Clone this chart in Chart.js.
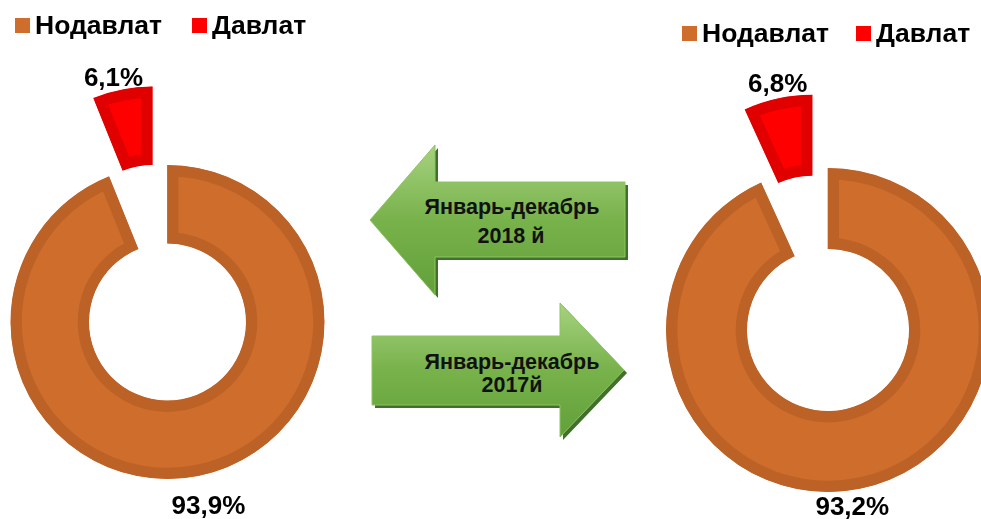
<!DOCTYPE html>
<html>
<head>
<meta charset="utf-8">
<script src="https://cdn.jsdelivr.net/npm/chart.js@4/dist/chart.umd.min.js"></script>
<style>
  html, body { margin: 0; padding: 0; background: #fff; }
  #stage { position: relative; width: 981px; height: 519px; overflow: hidden; font-family: "Liberation Sans", Arial, sans-serif; }
  canvas { position: absolute; }
  #c2018 { left: 0; top: 0; }
  #c2017 { left: 650px; top: 0; }
  .legend { position: absolute; display: flex; align-items: center; font: bold 26.5px "Liberation Sans", Arial, sans-serif; line-height: 27px; color: #000; white-space: nowrap; }
  .legend .item { display: flex; align-items: center; margin-right: 30px; }
  .legend .box { width: 15px; height: 15px; margin-right: 5px; }
  #lg2018 { left: 15px; top: 12px; }
  #lg2017 { left: 682px; top: 20px; }
  #lg2017 .item { margin-right: 27px; }
  #arrows { position: absolute; left: 0; top: 0; }
</style>
</head>
<body>
<div id="stage">
  <svg id="arrows" width="981" height="519" xmlns="http://www.w3.org/2000/svg">
    <defs>
      <linearGradient id="g1" x1="0" y1="0" x2="0" y2="1">
        <stop offset="0" stop-color="#A6D27F"/>
        <stop offset="0.5" stop-color="#78B24B"/>
        <stop offset="1" stop-color="#62A039"/>
      </linearGradient>
    </defs>
    <polygon points="373,223 438,148 438,185 628,185 628,260 438,260 438,298" fill="#41702A"/>
    <polygon points="370,220 435,145 435,182 625,182 625,257 435,257 435,295" fill="url(#g1)" stroke="#8DC463" stroke-width="1"/>
    <polygon points="375,339 563,339 563,306 627,373 563,440 563,408 375,408" fill="#41702A"/>
    <polygon points="372,336 560,336 560,303 624,370 560,437 560,405 372,405" fill="url(#g1)" stroke="#8DC463" stroke-width="1"/>
    <g font-family="Liberation Sans, Arial, sans-serif" font-weight="bold" font-size="21.5" fill="#111" text-anchor="middle">
      <text x="512" y="214">Январь-декабрь</text>
      <text x="511" y="243">2018 й</text>
      <text x="512" y="369">Январь-декабрь</text>
      <text x="512" y="392">2017й</text>
    </g>
  </svg>
  <canvas id="c2018" width="340" height="519"></canvas>
  <canvas id="c2017" width="331" height="519"></canvas>
  <div class="legend" id="lg2018"></div>
  <div class="legend" id="lg2017"></div>
</div>
<script>
// ---- data ----
const categories = ['Нодавлат', 'Давлат'];
const share2018 = [93.9, 6.1];
const share2017 = [93.2, 6.8];
const sliceColors = ['#CF6E2C', '#FF0000'];
const sliceBorders = ['#BD6227', '#E00000'];

// ---- doughnut controller that draws exploded slices ----
class ExplodedDoughnutController extends Chart.DoughnutController {
  draw() {
    const ctx = this.chart.ctx;
    const area = this.chart.chartArea;
    const meta = this._cachedMeta;
    const dist = this.getDataset().explode || [];
    meta.data.forEach((arc, i) => {
      if (arc.hidden) return;
      const d = dist[i] || 0;
      const mid = (arc.startAngle + arc.endAngle) / 2;
      ctx.save();
      ctx.translate(Math.cos(mid) * d, Math.sin(mid) * d);
      arc.draw(ctx, area);
      ctx.restore();
    });
  }
}
ExplodedDoughnutController.id = 'explodedDoughnut';
ExplodedDoughnutController.defaults = Chart.DoughnutController.defaults;
ExplodedDoughnutController.overrides = Chart.DoughnutController.overrides;
Chart.register(ExplodedDoughnutController);

const fmt = v => v.toFixed(1).replace('.', ',') + '%';

const sliceLabels = {
  id: 'sliceLabels',
  afterDatasetsDraw(chart, args, opts) {
    const ctx = chart.ctx;
    const meta = chart.getDatasetMeta(0);
    const ds = chart.data.datasets[0];
    const dist = ds.explode || [];
    ctx.save();
    ctx.font = opts.font;
    ctx.fillStyle = opts.color;
    ctx.textAlign = 'center';
    ctx.textBaseline = 'middle';
    meta.data.forEach((arc, i) => {
      const mid = (arc.startAngle + arc.endAngle) / 2;
      const text = fmt(ds.data[i]);
      const w = ctx.measureText(text).width;
      const h = opts.textHeight;
      const r = arc.outerRadius + (dist[i] || 0) + opts.pad[i];
      const c = Math.cos(mid), s = Math.sin(mid);
      const x = arc.x + c * (r + w / 2) + opts.nudgeX[i];
      const y = arc.y + s * (r + h / 2);
      ctx.fillText(text, x, y);
    });
    ctx.restore();
  }
};

function htmlLegend(chart, el) {
  const items = chart.options.plugins.legend.labels.generateLabels(chart);
  el.innerHTML = '';
  items.forEach(it => {
    const item = document.createElement('div');
    item.className = 'item';
    const box = document.createElement('span');
    box.className = 'box';
    box.style.background = it.fillStyle;
    const txt = document.createElement('span');
    txt.textContent = it.text;
    item.appendChild(box);
    item.appendChild(txt);
    el.appendChild(item);
  });
}

function makeChart(canvasId, values, radius, explode, padding, labelOpts) {
  return new Chart(document.getElementById(canvasId), {
    type: 'explodedDoughnut',
    data: {
      labels: categories,
      datasets: [{
        data: values,
        explode: explode,
        backgroundColor: sliceColors,
        borderColor: sliceBorders,
        borderWidth: 11,
        borderAlign: 'inner',
        borderJoinStyle: 'miter'
      }]
    },
    options: {
      responsive: false,
      devicePixelRatio: 1,
      animation: false,
      radius: radius,
      cutout: '50%',
      rotation: 0,
      layout: { padding: padding },
      plugins: {
        legend: { display: false },
        tooltip: { enabled: false },
        sliceLabels: Object.assign({
          font: 'bold 26px "Liberation Sans", Arial, sans-serif',
          color: '#000',
          textHeight: 20
        }, labelOpts)
      }
    },
    plugins: [sliceLabels]
  });
}

const chart2018 = makeChart('c2018', share2018, 157, [0, 80],
  { left: 0, right: 5, top: 125, bottom: 0 },
  { pad: [21, 1], nudgeX: [0, -3] });
const chart2017 = makeChart('c2017', share2017, 162, [0, 75],
  { left: 25, right: 0, top: 141, bottom: 0 },
  { pad: [10, 4], nudgeX: [-20, 7] });

htmlLegend(chart2018, document.getElementById('lg2018'));
htmlLegend(chart2017, document.getElementById('lg2017'));
</script>
</body>
</html>
